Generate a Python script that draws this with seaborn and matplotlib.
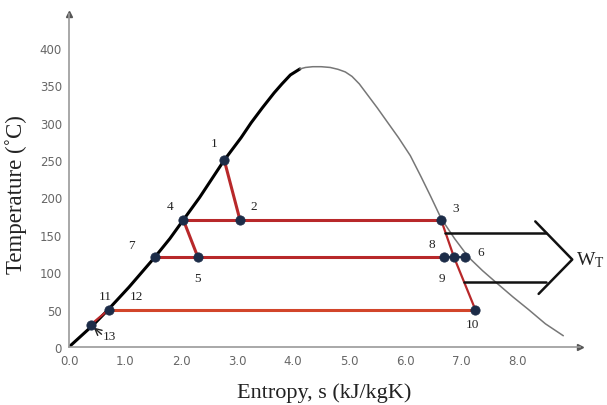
import numpy as np
import pandas as pd
import seaborn as sns
import matplotlib.pyplot as plt

# Curva de saturação
liq_s = [0.0, 0.44, 0.70, 1.07, 1.30, 1.53, 1.80, 2.04, 2.33, 2.55, 2.77, 3.07, 3.25, 3.45, 3.66, 3.80, 3.95, 4.12]
liq_T = [0, 30, 50, 80, 100, 120, 145, 170, 200, 225, 250, 280, 300, 320, 340, 352, 364, 372]
vap_s = [4.12, 4.22, 4.35, 4.50, 4.66, 4.80, 4.93, 5.05, 5.18, 5.32, 5.50, 5.68, 5.88, 6.09,
         6.28, 6.45, 6.64, 6.88, 7.13, 7.38, 7.64, 7.92, 8.20, 8.50, 8.82]
vap_T = [372, 374, 375, 375, 374, 371.5, 368, 362, 352, 338, 320, 301, 280, 256,
         228, 202, 172, 145, 120, 102, 85, 67, 50, 31, 15]

# Estados do ciclo
pts_lab = ["1", "2", "3", "4", "5", "6", "7", "8", "9", "10", "11", "13"]
pts_s = [2.77, 3.05, 6.64, 2.04, 2.30, 7.07, 1.53, 6.70, 6.87, 7.25, 0.71, 0.39]
pts_T = [250, 170, 170, 170, 120, 120, 120, 120, 120, 50, 50, 30]

# Posição dos rótulos
lab_txt = ["1", "2", "3", "4", "5", "6", "7", "8", "9", "10", "11", "12"]
lab_s = [2.59, 3.29, 6.89, 1.80, 2.30, 7.34, 1.11, 6.48, 6.66, 7.20, 0.64, 1.21]
lab_T = [273, 189, 186, 188, 92, 127, 137, 138, 92, 31, 68, 68]

# Seta de trabalho da turbina
arrow_top = ([6.71, 8.51], [153, 153])
arrow_bot = ([7.04, 8.52], [87, 87])
chevron = ([8.32, 8.98, 8.38], [168, 117, 71])

sns.set_theme(style="white")
plt.rcParams["font.family"] = ["DejaVu Sans"]

fig = plt.figure(figsize=(6.07, 4.06), dpi=100)
ax = fig.add_axes([0.1137, 0.143, 0.842, 0.820])

sns.lineplot(x=liq_s, y=liq_T, sort=False, estimator=None, color="black", lw=2.2, ax=ax)
sns.lineplot(x=vap_s, y=vap_T, sort=False, estimator=None, color="#777777", lw=1.1, ax=ax)

red = "#b8282a"
def seg(i, j, c=red, lw=2.2):
    sns.lineplot(x=[pts_s[i], pts_s[j]], y=[pts_T[i], pts_T[j]], sort=False,
                 estimator=None, color=c, lw=lw, ax=ax)

seg(3, 2)           # 4 -> 3
seg(6, 7)           # 7 -> 8
seg(10, 9, "#d2452a")  # 12 -> 10
seg(0, 1)           # 1 -> 2
seg(3, 4)           # 4 -> 5
seg(2, 8, lw=1.6)   # 3 -> 9
seg(8, 9, lw=1.6)   # 9 -> 10
seg(11, 10, lw=1.6)  # 13 -> 11
seg(7, 5, "#1f3550", 1.6)  # 8 -> 6

for xs, ys in (arrow_top, arrow_bot, chevron):
    sns.lineplot(x=xs, y=ys, sort=False, estimator=None, color="#111111", lw=1.8, ax=ax)

df = pd.DataFrame({"s": pts_s, "T": pts_T})
sns.scatterplot(data=df, x="s", y="T", color="#1c2c48", s=45, edgecolor="#1c2c48",
                zorder=5, ax=ax)

for t, sx, ty in zip(lab_txt, lab_s, lab_T):
    ax.text(sx, ty, t, ha="center", va="center", fontsize=9.5,
            family="Liberation Serif", color="#222222")
ax.annotate("", xy=(0.44, 26), xytext=(0.58, 17),
            arrowprops=dict(arrowstyle="->", color="#222222", lw=1, shrinkA=0, shrinkB=0))
ax.text(0.60, 15, "13", fontsize=9.5, family="Liberation Serif", color="#222222",
        ha="left", va="center")
ax.text(9.05, 117, "$\\mathregular{W_T}$", fontsize=14, family="Liberation Serif",
        va="center", ha="left", color="#222222", clip_on=False)

ax.set_xlim(0, 9.12)
ax.set_ylim(0, 445.5)
ax.set_xticks(np.arange(0, 9, 1.0))
ax.set_xticklabels([f"{v:.1f}" for v in np.arange(0, 9, 1.0)])
ax.set_yticks(np.arange(0, 401, 50))
ax.tick_params(axis="both", labelsize=8.5, colors="#666666", length=3, width=0.8,
               direction="out", pad=2)
for side in ("top", "right"):
    ax.spines[side].set_visible(False)
for side in ("left", "bottom"):
    ax.spines[side].set_color("#9a9a9a")
    ax.spines[side].set_linewidth(1.2)
ax.plot(1, 0, ">", color="#555555", ms=4, transform=ax.transAxes, clip_on=False)
ax.plot(0, 1, "^", color="#555555", ms=4, transform=ax.transAxes, clip_on=False)

ax.set_xlabel("Entropy, s (kJ/kgK)", fontsize=16, family="Liberation Serif",
              color="#222222")
ax.set_ylabel("Temperature (˚C)", fontsize=16.5, family="Liberation Serif",
              color="#222222")
ax.xaxis.set_label_coords(0.5, -0.105)
ax.yaxis.set_label_coords(-0.083, 0.462)
ax.grid(False)

fig.savefig("out.png", dpi=100)
